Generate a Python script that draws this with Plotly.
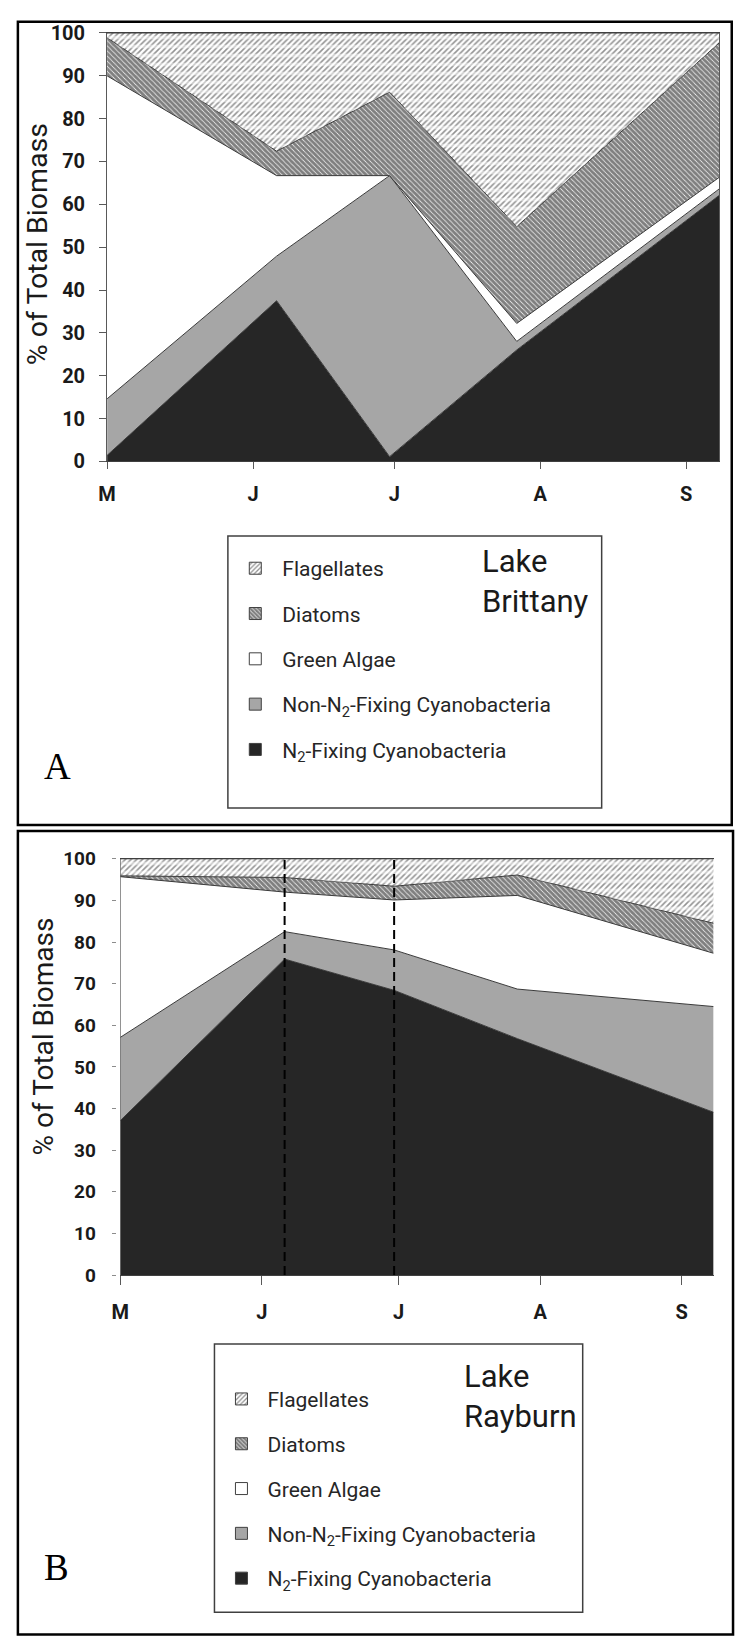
import numpy as np
import plotly.graph_objects as go

# Sampling dates (same five surveys in both reservoirs)
dates = ["2012-05-01", "2012-06-06", "2012-06-30", "2012-07-27", "2012-09-08"]
month_ticks = ["2012-05-01", "2012-06-01", "2012-07-01", "2012-08-01", "2012-09-01"]
month_labels = ["M", "J", "J", "A", "S"]
pct_ticks = list(range(0, 101, 10))

# Phytoplankton groups, bottom layer first
groups = [
    "N<sub>2</sub>-Fixing Cyanobacteria",
    "Non-N<sub>2</sub>-Fixing Cyanobacteria",
    "Green Algae",
    "Diatoms",
    "Flagellates",
]

# Lake Brittany, % of total biomass
brittany_n2 = [1.4, 37.5, 1.1, 26.0, 62.1]
brittany_non_n2 = [13.2, 10.4, 65.6, 2.0, 1.5]
brittany_green = [75.4, 18.8, 0.0, 4.2, 2.7]
brittany_diatoms = [8.9, 5.7, 19.5, 22.6, 31.4]
brittany_flagellates = [1.1, 27.6, 13.8, 45.2, 2.3]

# Lake Rayburn, % of total biomass
rayburn_n2 = [37.1, 75.9, 68.4, 56.8, 39.1]
rayburn_non_n2 = [20.0, 6.6, 9.7, 11.9, 25.4]
rayburn_green = [38.6, 9.5, 12.0, 22.5, 12.8]
rayburn_diatoms = [0.2, 3.5, 3.3, 4.9, 7.2]
rayburn_flagellates = [4.1, 4.5, 6.6, 3.9, 15.5]

# Rayburn surveys marked with dashed guides
rayburn_marked = [dates[1], dates[2]]

W, H = 736, 1648


def px(x):
    return x / W


def py(y):
    return 1 - y / H


EDGE = "#3a3a3a"
layer_style = [
    dict(color="#262626"),
    dict(color="#a6a6a6"),
    dict(color="#ffffff"),
    dict(color="#ffffff", pattern=dict(shape="\\", fgcolor="#000000", bgcolor="#ffffff",
                                       size=3.6, solidity=0.8)),
    dict(color="#ffffff", pattern=dict(shape="/", fgcolor="#262626", bgcolor="#ffffff",
                                       size=4, solidity=0.4)),
]

fig = go.Figure()


def add_lake(series, xa, ya, legend_id, tag):
    cum = np.cumsum(np.array(series, dtype=float), axis=0)

    # legend entries, top layer listed first
    for k in reversed(range(len(groups))):
        st = layer_style[k]
        marker = dict(color=st["color"], line=dict(color="#404040", width=1))
        if "pattern" in st:
            marker["pattern"] = st["pattern"]
        fig.add_trace(go.Bar(x=[None], y=[None], name=groups[k], marker=marker,
                             legend=legend_id, legendgroup=f"{tag}{k}",
                             xaxis=xa, yaxis=ya, hoverinfo="skip"))

    # stacked areas
    for k in range(len(groups)):
        st = layer_style[k]
        kw = dict(fill="tozeroy" if k == 0 else "tonexty")
        if "pattern" in st:
            kw["fillcolor"] = "rgba(0,0,0,0)"
            kw["fillpattern"] = st["pattern"]
        else:
            kw["fillcolor"] = st["color"]
        fig.add_trace(go.Scatter(x=dates, y=cum[k], mode="lines",
                                 line=dict(color=EDGE, width=1),
                                 name=groups[k], legendgroup=f"{tag}{k}",
                                 showlegend=False, xaxis=xa, yaxis=ya, **kw))

    # flagellate texture: white horizontal gaps break the hatch into rows
    fig.add_trace(go.Scatter(x=dates, y=cum[3], mode="lines", line=dict(width=0),
                             showlegend=False, hoverinfo="skip", xaxis=xa, yaxis=ya))
    fig.add_trace(go.Scatter(x=dates, y=cum[4], mode="lines", line=dict(width=0),
                             fill="tonexty", fillcolor="rgba(0,0,0,0)",
                             fillpattern=dict(shape="-", fgcolor="#ffffff", size=9,
                                              solidity=0.4),
                             showlegend=False, hoverinfo="skip", xaxis=xa, yaxis=ya))


add_lake([brittany_n2, brittany_non_n2, brittany_green, brittany_diatoms,
          brittany_flagellates], "x", "y", "legend", "A")
add_lake([rayburn_n2, rayburn_non_n2, rayburn_green, rayburn_diatoms,
          rayburn_flagellates], "x2", "y2", "legend2", "B")

tick_font = dict(family="Roboto", size=20, color="#1a1a1a", weight="bold")
legend_font = dict(family="Roboto", size=21, color="#262626")

fig.update_layout(
    width=W, height=H,
    margin=dict(l=0, r=0, t=0, b=0),
    paper_bgcolor="white", plot_bgcolor="white",
    showlegend=True,
    barmode="overlay",
    xaxis=dict(domain=[px(99.3), px(719)], range=[dates[0], dates[-1]], type="date",
               tickvals=month_ticks, ticktext=month_labels, ticks="outside", ticklen=7,
               tickcolor="#595959", showline=True, linecolor="#404040", linewidth=1,
               mirror=True, showgrid=False, zeroline=False, tickfont=tick_font,
               ticklabelstandoff=8, anchor="y"),
    yaxis=dict(domain=[py(456), py(21.3)], range=[0, 100], tickvals=pct_ticks,
               ticks="outside", ticklen=7, tickcolor="#595959", showline=True,
               linecolor="#595959", linewidth=1, mirror=True, showgrid=False,
               zeroline=False, tickfont=tick_font, ticklabelstandoff=10, anchor="x"),
    xaxis2=dict(domain=[px(112.7), px(713.3)], range=[dates[0], dates[-1]], type="date",
                tickvals=month_ticks, ticktext=month_labels, ticks="outside", ticklen=9,
                tickcolor="#595959", showline=True, linecolor="#404040", linewidth=1,
                mirror=True, showgrid=False, zeroline=False, tickfont=tick_font,
                ticklabelstandoff=10, anchor="y2"),
    yaxis2=dict(domain=[py(1281.7), py(859.3)], range=[0, 100], tickvals=pct_ticks,
                ticks="outside", ticklen=4, tickcolor="#8c8c8c", showline=False,
                showgrid=False, zeroline=False,
                tickfont=dict(family="Roboto", size=19, color="#1a1a1a", weight="bold"),
                ticklabelstandoff=12, anchor="free", position=px(108)),
    legend=dict(x=px(222), xanchor="left", y=py(544), yanchor="top",
                bgcolor="rgba(0,0,0,0)", borderwidth=0, font=legend_font,
                itemwidth=44, tracegroupgap=15, traceorder="grouped"),
    legend2=dict(x=px(209), xanchor="left", y=py(1387), yanchor="top",
                 bgcolor="rgba(0,0,0,0)", borderwidth=0, font=legend_font,
                 itemwidth=42, tracegroupgap=14.5, traceorder="grouped"),
)

shapes = [
    # panel frames
    dict(type="rect", xref="paper", yref="paper", x0=px(9), x1=px(731.7),
         y0=py(825), y1=py(10), line=dict(color="black", width=2.5)),
    dict(type="rect", xref="paper", yref="paper", x0=px(9), x1=px(733),
         y0=py(1646.5), y1=py(831), line=dict(color="black", width=2.5)),
    # legend boxes
    dict(type="rect", xref="paper", yref="paper", x0=px(221.6), x1=px(600),
         y0=py(807.7), y1=py(531.7), line=dict(color="#404040", width=1.5)),
    dict(type="rect", xref="paper", yref="paper", x0=px(208), x1=px(580.8),
         y0=py(1624), y1=py(1351.7), line=dict(color="#404040", width=1.5)),
    # left edge of the Rayburn plot area
    dict(type="line", xref="x2", yref="y2", x0=dates[0], x1=dates[0], y0=0, y1=100,
         line=dict(color=EDGE, width=1)),
]
for d in rayburn_marked:
    shapes.append(dict(type="line", xref="x2", yref="y2", x0=d, x1=d, y0=0, y1=100,
                       line=dict(color="black", width=2, dash="9px,5px")))
fig.update_layout(shapes=shapes)

title_font = dict(family="Roboto", size=28.5, color="#1a1a1a")
lake_font = dict(family="Roboto", size=31, color="#1a1a1a")
panel_font = dict(family="Liberation Serif", size=37, color="black")
annotations = [
    dict(text="% of Total Biomass", x=px(29), y=py(236), textangle=-90, font=title_font),
    dict(text="% of Total Biomass", x=px(35), y=py(1040), textangle=-90,
         font=dict(title_font, size=28)),
    dict(text="Lake<br>Brittany", x=px(477), y=py(578), xanchor="left", align="left",
         font=lake_font),
    dict(text="Lake<br>Rayburn", x=px(459), y=py(1405), xanchor="left", align="left",
         font=lake_font),
    dict(text="A", x=px(49), y=py(765.5), font=panel_font),
    dict(text="B", x=px(48), y=py(1578.5), font=panel_font),
]
for a in annotations:
    a.update(xref="paper", yref="paper", showarrow=False)
    a.setdefault("xanchor", "center")
    a.setdefault("yanchor", "middle")
fig.update_layout(annotations=annotations)

fig.write_html("out.html")
